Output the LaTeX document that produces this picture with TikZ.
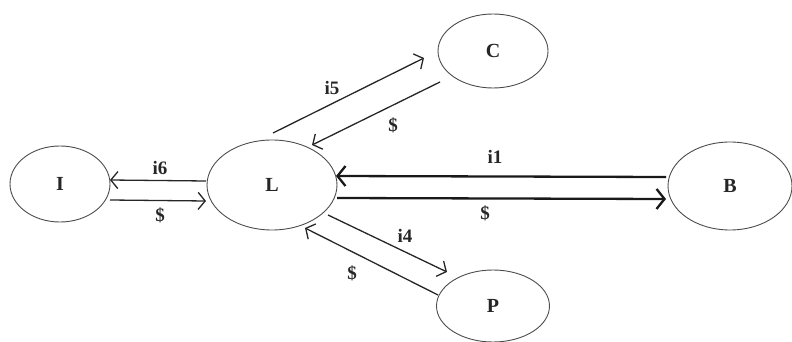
\documentclass[tikz,border=0pt]{standalone}
\usepackage{fontspec}
\setmainfont{Liberation Serif}
\usetikzlibrary{shapes.geometric,arrows.meta,calc}
\begin{document}
\begin{tikzpicture}[x=1pt,y=-1pt,
  ent/.style={ellipse,draw=black!70,line width=0.9pt,inner sep=0pt,
    font=\fontsize{20}{24}\selectfont\bfseries,text=black!85},
  lbl/.style={font=\fontsize{19}{23}\selectfont\bfseries,text=black!85,inner sep=0pt},
  flow/.style={line width=1.3pt,draw=black!85,-{Straight Barb[length=7pt,width=17pt,line width=1.3pt]}},
  bigflow/.style={line width=2.3pt,draw=black!90,-{Straight Barb[length=8pt,width=20pt,line width=2.3pt]}}]
\useasboundingbox (0,0) rectangle (792,342);
\node[ent,minimum width=100pt,minimum height=76pt] (I) at (60,184) {I};
\node[ent,minimum width=130pt,minimum height=90pt] (L) at (272,185) {L};
\node[ent,minimum width=110pt,minimum height=74pt] (C) at (493,51) {C};
\node[ent,minimum width=124pt,minimum height=88pt] (B) at (730,186) {B};
\node[ent,minimum width=113pt,minimum height=72pt] (P) at (493,306) {P};
% I <-> L
\draw[flow] ($(L.center)+(-66,-4)$) -- ($(I.center)+(50,-4)$);
\draw[flow] ($(I.center)+(50,16)$) -- ($(L.center)+(-66,16)$);
\node[lbl] (i6) at (160,168) {i6};
\node[lbl] (d6) at (160,215) {\$};
% L <-> C
\draw[flow] ($(L.center)+(1,-52)$) -- ($(C.center)+(-69,7)$);
\draw[flow] ($(C.center)+(-53,31)$) -- ($(L.center)+(40,-40)$);
\node[lbl] (i5) at (332,88) {i5};
\node[lbl] (d5) at (393,125) {\$};
% L <-> B
\draw[bigflow] ($(B.center)+(-64,-9)$) -- ($(L.center)+(64,-9)$);
\draw[bigflow] ($(L.center)+(65,13)$) -- ($(B.center)+(-64,13)$);
\node[lbl] (i1) at (495,157) {i1};
\node[lbl] (d1) at (485,213) {\$};
% L <-> P
\draw[flow] ($(L.center)+(56,30)$) -- ($(P.center)+(-46,-34)$);
\draw[flow] ($(P.center)+(-55,-11)$) -- ($(L.center)+(33,43)$);
\node[lbl] (i4) at (405,236) {i4};
\node[lbl] (d4) at (352,273) {\$};
\end{tikzpicture}
\end{document}
